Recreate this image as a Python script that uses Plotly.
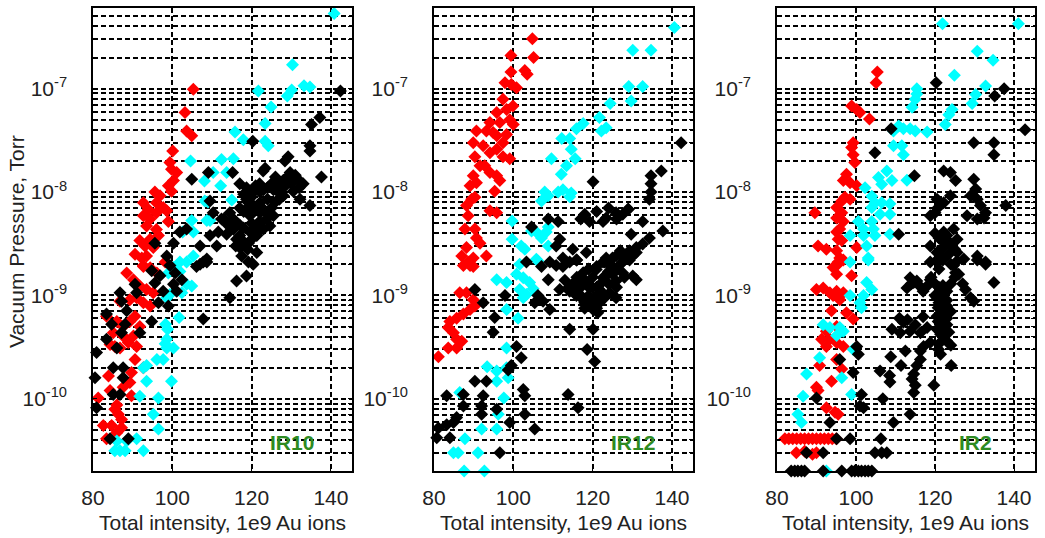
import plotly.graph_objects as go

# ---------------- IR10 ----------------
ir10_red_x = [105.3, 103.2, 103.6, 104.9, 100.1, 99.4, 99.8, 101.1, 100.3, 99.0, 99.8, 95.6, 96.9, 96.0, 97.7,
              92.7, 93.9, 92.7, 94.4, 96.0, 98.6, 99.0, 93.5, 96.0, 94.4, 96.5, 91.8, 93.1, 90.6, 92.3, 93.5,
              95.2, 92.7, 92.7, 94.4, 96.1, 98.2, 88.5, 90.2, 91.8, 93.5, 95.2, 86.8, 89.3, 91.0, 92.7, 94.4,
              83.4, 86.0, 87.6, 89.3, 90.6, 91.8, 85.1, 87.6, 90.2, 84.3, 85.5, 86.8, 88.9, 91.0, 90.6, 92.7,
              89.7, 83.9, 89.3, 87.6, 89.7, 84.3, 81.3, 86.0, 85.5, 86.4, 87.2, 82.6, 84.7, 87.2, 83.4, 86.0]
ir10_red_y = [9.9e-8, 5.9e-8, 3.9e-8, 3.5e-8, 2.5e-8, 1.93e-8, 1.66e-8, 1.55e-8, 1.29e-8, 1.15e-8, 1.02e-8, 1.0e-8,
              9.2e-9, 7.9e-9, 7.1e-9, 7.9e-9, 6.8e-9, 5.9e-9, 5.5e-9, 6.3e-9, 6.6e-9, 5.2e-9, 4.7e-9, 4.35e-9,
              3.5e-9, 3.8e-9, 3.4e-9, 3.0e-9, 2.5e-9, 2.3e-9, 2.4e-9, 2.9e-9, 1.95e-9, 1.9e-9, 1.85e-9, 1.65e-9,
              2.1e-9, 1.65e-9, 1.42e-9, 1.23e-9, 1.14e-9, 1.06e-9, 8.8e-10, 9.1e-10, 9.5e-10, 8.5e-10, 7.9e-10,
              6.3e-10, 5.6e-10, 5.0e-10, 5.6e-10, 6.3e-10, 5.0e-10, 4.35e-10, 4.05e-10, 4.05e-10, 3.35e-10, 3.2e-10,
              3.1e-10, 3.5e-10, 3.2e-10, 2.4e-10, 2.0e-10, 1.8e-10, 1.66e-10, 1.44e-10, 1.29e-10, 1.07e-10, 1.2e-10,
              1.02e-10, 8.7e-11, 7.9e-11, 7.1e-11, 6.3e-11, 5.5e-11, 5.5e-11, 5.25e-11, 4.1e-11, 4.7e-11]
ir10_cyan_x = [140.8, 130.3, 133.2, 134.7, 130.1, 129.0, 121.7, 124.9, 123.4, 123.4, 124.2, 115.8, 117.9, 104.6,
               112.4, 115.4, 113.7, 110.3, 108.1, 112.2, 108.2, 109.0, 115.0, 104.9, 108.7, 109.5, 102.6, 105.3,
               101.9, 103.6, 105.3, 99.0, 100.3, 101.9, 103.6, 104.9, 102.4, 99.4, 98.6, 101.7, 98.3, 98.8, 98.6,
               98.2, 100.3, 98.6, 96.1, 97.7, 93.5, 92.7, 93.5, 99.8, 91.8, 96.5, 95.2, 96.5, 91.0, 88.5, 86.0,
               85.5, 86.8, 88.1, 92.7]
ir10_cyan_y = [5.35e-7, 1.7e-7, 1.07e-7, 1.04e-7, 9.7e-8, 8.5e-8, 9.5e-8, 6.65e-8, 4.6e-8, 3.1e-8, 2.8e-8, 3.8e-8,
               3.2e-8, 2.0e-8, 2.07e-8, 2.1e-8, 1.55e-8, 1.55e-8, 1.28e-8, 1.15e-8, 8.2e-9, 8.0e-9, 8.4e-9, 5.3e-9,
               5.3e-9, 5.3e-9, 4.1e-9, 4.1e-9, 2.1e-9, 2.1e-9, 2.4e-9, 1.65e-9, 1.86e-9, 1.7e-9, 1.28e-9, 1.23e-9,
               1.06e-9, 1.02e-9, 9.5e-10, 6.1e-10, 5.25e-10, 4.7e-10, 3.76e-10, 3.4e-10, 3.1e-10, 3.1e-10, 2.4e-10,
               2.4e-10, 2.1e-10, 2.0e-10, 1.48e-10, 1.48e-10, 1.06e-10, 1.02e-10, 7.1e-11, 5.1e-11, 4.1e-11, 3.9e-11,
               3.9e-11, 3.15e-11, 3.15e-11, 3.15e-11, 3.15e-11]
ir10_black_x = [142.4, 137.2, 135.1, 120.3, 134.7, 134.7, 129.2, 128.4, 123.4, 122.9, 137.6, 129.7, 130.5, 132.2,
                109.1, 104.9, 115.2, 133.0, 118.7, 120.4, 122.1, 125.5, 126.7, 128.0, 130.5, 132.2, 134.7, 109.5,
                110.3, 114.5, 115.4, 112.4, 118.7, 120.4, 122.1, 119.6, 122.1, 123.8, 125.5, 123.0, 124.6, 121.3,
                119.6, 115.4, 116.2, 113.7, 111.6, 111.2, 117.0, 119.2, 121.3, 107.0, 108.7, 107.8, 109.5, 101.9,
                103.6, 100.3, 95.6, 98.6, 99.4, 120.4, 119.2, 118.7, 116.2, 114.5, 107.8, 107.0, 108.7, 106.1,
                100.7, 100.3, 101.1, 102.4, 94.8, 96.9, 95.6, 97.7, 90.6, 91.0, 86.8, 87.2, 96.5, 99.0, 88.5, 83.4,
                84.7, 88.1, 87.2, 91.8, 94.8, 83.4, 86.0, 80.9, 85.1, 87.6, 80.5, 87.6, 85.1, 86.8, 80.9, 84.3, 88.9,
                117.0, 118.0, 119.0, 120.0, 121.0, 122.0, 123.0, 124.0, 125.0, 126.0, 127.0, 128.0, 129.0, 130.0,
                117.0, 118.0, 119.0, 121.0, 122.0, 123.0, 124.0, 125.0, 126.0, 127.0, 128.0, 116.0, 117.0, 118.0,
                120.0, 121.0, 122.0, 117.0, 118.0, 120.0, 119.0, 117.5, 116.0, 114.0, 113.0, 124.0, 126.0, 131.0,
                132.0]
ir10_black_y = [9.5e-8, 5.25e-8, 4.5e-8, 3.1e-8, 2.8e-8, 2.5e-8, 2.2e-8, 2.0e-8, 1.7e-8, 1.6e-8, 1.4e-8, 1.55e-8,
                1.35e-8, 1.27e-8, 1.55e-8, 1.33e-8, 1.55e-8, 1.2e-8, 1.1e-8, 1.0e-8, 1.0e-8, 1.05e-8, 1.0e-8, 9.2e-9,
                1.02e-8, 8.5e-9, 7.4e-9, 8.2e-9, 6.3e-9, 6.3e-9, 5.5e-9, 5.5e-9, 8.5e-9, 7.4e-9, 7.9e-9, 5.9e-9,
                6.3e-9, 5.5e-9, 5.9e-9, 4.4e-9, 4.7e-9, 3.8e-9, 4.1e-9, 4.4e-9, 3.5e-9, 3.9e-9, 4.1e-9, 3.0e-9,
                2.9e-9, 3.2e-9, 2.6e-9, 3.0e-9, 2.25e-9, 2.1e-9, 3.8e-9, 4.1e-9, 4.4e-9, 3.2e-9, 3.2e-9, 2.4e-9,
                1.95e-9, 2.0e-9, 2.1e-9, 1.54e-9, 1.38e-9, 9.5e-10, 5.9e-10, 2.0e-9, 2.1e-9, 1.9e-9, 1.65e-9,
                1.28e-9, 1.1e-9, 1.42e-9, 1.73e-9, 1.55e-9, 1.32e-9, 1.1e-9, 1.28e-9, 1.06e-9, 1.06e-9, 8.8e-10,
                8.5e-10, 7.9e-10, 7.1e-10, 6.6e-10, 5.25e-10, 5.25e-10, 4.35e-10, 4.35e-10, 5.6e-10, 3.76e-10,
                3.1e-10, 2.8e-10, 2.0e-10, 2.0e-10, 1.6e-10, 1.6e-10, 1.1e-10, 1.1e-10, 8.2e-11, 4.1e-11, 4.1e-11,
                1.2e-8, 9.5e-9, 8.0e-9, 9.0e-9, 1.15e-8, 1.2e-8, 1.05e-8, 1.1e-8, 1.2e-8, 1.25e-8, 1.15e-8, 1.3e-8,
                1.4e-8, 1.2e-8, 7.0e-9, 6.5e-9, 7.0e-9, 6.8e-9, 5.2e-9, 6.8e-9, 6.3e-9, 7.0e-9, 8.0e-9, 8.5e-9,
                1.1e-8, 5.0e-9, 4.8e-9, 4.5e-9, 5.0e-9, 4.5e-9, 4.2e-9, 3.8e-9, 3.3e-9, 3.5e-9, 2.8e-9, 2.4e-9,
                3.0e-9, 4.8e-9, 5.5e-9, 8.5e-9, 1.4e-8, 1.45e-8, 1.1e-8]

# ---------------- IR12 ----------------
ir12_red_x = [104.8, 99.4, 105.1, 102.9, 103.5, 99.4, 97.9, 99.5, 100.8, 97.4, 98.3, 99.9, 95.8, 96.6, 99.1, 100.0,
              94.1, 93.2, 94.9, 90.7, 89.9, 95.8, 97.4, 98.3, 92.4, 94.1, 95.8, 97.4, 99.1, 90.3, 91.6, 92.8, 94.1,
              95.8, 96.6, 89.9, 89.1, 90.7, 95.3, 89.5, 90.3, 88.2, 94.1, 95.8, 88.6, 87.8, 90.3, 90.7, 91.6, 88.2,
              87.0, 89.9, 93.2, 87.4, 89.1, 88.6, 89.9, 86.5, 88.2, 89.9, 89.1, 87.4, 90.3, 84.0, 85.7, 83.6, 84.9,
              85.7, 87.0, 83.6, 85.7, 81.1]
ir12_red_y = [3.04e-7, 2.1e-7, 2.0e-7, 1.5e-7, 1.38e-7, 1.45e-7, 1.14e-7, 1.1e-7, 1.02e-7, 7.9e-8, 6.3e-8, 6.8e-8,
              5.9e-8, 4.7e-8, 5.0e-8, 4.5e-8, 4.7e-8, 3.9e-8, 3.76e-8, 3.9e-8, 3.0e-8, 3.5e-8, 3.0e-8, 3.6e-8,
              2.8e-8, 2.4e-8, 2.6e-8, 2.2e-8, 2.1e-8, 2.2e-8, 1.8e-8, 1.8e-8, 1.55e-8, 1.44e-8, 1.29e-8, 1.44e-8,
              1.15e-8, 1.23e-8, 1.02e-8, 8.5e-9, 8.9e-9, 7.4e-9, 6.6e-9, 6.3e-9, 5.9e-9, 4.4e-9, 4.4e-9, 3.6e-9,
              3.2e-9, 2.9e-9, 2.4e-9, 2.3e-9, 2.4e-9, 1.95e-9, 1.95e-9, 2.1e-9, 1.9e-9, 1.06e-9, 1.06e-9, 9.1e-10,
              7.3e-10, 6.6e-10, 7.9e-10, 5.6e-10, 6.0e-10, 4.9e-10, 4.35e-10, 3.76e-10, 3.6e-10, 3.1e-10, 3.1e-10,
              2.55e-10]
ir12_cyan_x = [140.6, 130.1, 134.7, 129.1, 132.6, 129.7, 124.4, 121.7, 117.6, 115.9, 122.2, 123.4, 112.2, 114.2,
               114.6, 109.6, 115.6, 113.4, 112.1, 107.9, 108.8, 107.1, 111.3, 112.5, 114.6, 114.2, 99.7, 104.6,
               105.8, 107.1, 108.8, 108.3, 99.7, 102.0, 102.9, 108.8, 105.8, 101.6, 106.2, 100.8, 102.5, 104.1,
               95.8, 98.3, 101.6, 103.3, 105.0, 102.5, 98.3, 101.2, 98.3, 93.4, 95.8, 98.3, 95.8, 98.7, 97.6, 86.5,
               96.2, 92.0, 95.8, 87.8, 84.9, 86.1, 91.1, 87.6, 92.7]
ir12_cyan_y = [3.9e-7, 2.36e-7, 2.36e-7, 1.05e-7, 1.05e-7, 7.6e-8, 7.2e-8, 5.25e-8, 4.6e-8, 4.1e-8, 3.9e-8, 4.2e-8,
               3.3e-8, 3.3e-8, 2.6e-8, 2.1e-8, 2.1e-8, 1.8e-8, 1.49e-8, 1.0e-8, 9.2e-9, 8.2e-9, 1.0e-8, 1.05e-8,
               9.8e-9, 9.0e-9, 5.25e-9, 4.2e-9, 4.1e-9, 3.6e-9, 4.6e-9, 4.1e-9, 3.5e-9, 3.0e-9, 2.8e-9, 3.0e-9,
               2.24e-9, 2.0e-9, 2.15e-9, 1.6e-9, 1.48e-9, 1.33e-9, 1.42e-9, 1.33e-9, 1.14e-9, 1.02e-9, 1.16e-9,
               9.5e-10, 7.3e-10, 6.0e-10, 3.1e-10, 2.04e-10, 1.86e-10, 2.0e-10, 1.48e-10, 1.6e-10, 1.02e-10,
               1.15e-10, 7.1e-11, 5.1e-11, 5.1e-11, 4.1e-11, 3.0e-11, 3.0e-11, 3.0e-11, 2.0e-11, 2.0e-11]
ir12_black_x = [142.3, 137.3, 134.7, 120.1, 134.7, 134.7, 134.3, 128.9, 127.6, 125.9, 123.4, 122.6, 118.0, 119.2,
                108.8, 111.3, 132.6, 137.7, 129.7, 134.3, 132.6, 131.0, 129.3, 127.6, 125.9, 123.4, 124.3, 122.6,
                112.5, 114.2, 110.8, 110.8, 111.7, 118.4, 104.6, 109.2, 112.5, 115.9, 117.6, 120.9, 122.6, 125.1,
                127.6, 130.1, 131.0, 129.3, 125.9, 116.7, 119.2, 121.7, 115.9, 117.6, 119.6, 121.7, 124.3, 125.9,
                120.1, 121.3, 111.7, 114.2, 109.2, 106.2, 107.5, 105.4, 108.8, 103.3, 107.1, 114.2, 120.1, 118.6,
                120.5, 90.3, 92.4, 97.9, 95.3, 94.9, 100.8, 102.0, 99.5, 98.7, 90.3, 93.2, 102.5, 102.9, 113.8,
                116.3, 83.2, 87.4, 87.4, 92.4, 85.7, 84.9, 83.2, 81.1, 80.7, 92.0, 92.0, 95.8, 99.1, 102.9, 105.4,
                96.6, 84.0,
                115.0, 116.0, 117.0, 118.0, 119.0, 120.0, 121.0, 122.0, 123.0, 124.0, 125.0, 126.0, 127.0, 128.0,
                129.0, 130.0, 131.0, 117.0, 118.0, 119.0, 120.0, 121.0, 122.0, 123.0, 120.0, 118.0, 121.0, 116.0,
                114.0, 113.0, 124.0, 126.0, 128.0, 119.0, 121.0, 123.0, 125.0, 127.0, 117.0, 121.0, 124.0, 126.0,
                129.0, 115.0, 116.0]
ir12_black_y = [3.0e-8, 1.6e-8, 1.44e-8, 1.26e-8, 1.2e-8, 1.0e-8, 8.5e-9, 6.8e-9, 6.1e-9, 6.3e-9, 5.6e-9, 5.2e-9,
                6.1e-9, 5.2e-9, 5.5e-9, 5.2e-9, 5.2e-9, 4.2e-9, 3.9e-9, 3.6e-9, 3.15e-9, 2.9e-9, 2.7e-9, 2.4e-9,
                2.4e-9, 2.3e-9, 1.95e-9, 2.1e-9, 2.3e-9, 2.1e-9, 1.95e-9, 3.0e-9, 3.5e-9, 2.6e-9, 4.6e-9, 2.1e-9,
                1.9e-9, 2.2e-9, 1.66e-9, 1.78e-9, 1.48e-9, 1.9e-9, 1.65e-9, 1.54e-9, 1.42e-9, 2.2e-9, 1.38e-9,
                1.23e-9, 1.18e-9, 1.14e-9, 1.0e-9, 9.1e-10, 8.5e-10, 8.5e-10, 1.06e-9, 9.5e-10, 7.3e-10, 6.8e-10,
                1.14e-9, 1.1e-9, 7.3e-10, 1.0e-9, 8.8e-10, 8.5e-10, 1.42e-9, 2.1e-9, 1.9e-9, 4.7e-10, 4.7e-10,
                3.0e-10, 2.3e-10, 1.14e-9, 8.5e-10, 1.0e-9, 6.1e-10, 4.4e-10, 3.2e-10, 2.5e-10, 2.1e-10, 1.9e-10,
                1.48e-10, 1.48e-10, 1.23e-10, 1.07e-10, 1.1e-10, 8.2e-11, 1.07e-10, 1.1e-10, 8.5e-11, 1.07e-10,
                6.6e-11, 5.9e-11, 5.6e-11, 5.2e-11, 4.2e-11, 7.1e-11, 8.5e-11, 7.9e-11, 5.9e-11, 7.1e-11, 5.1e-11,
                3.0e-11, 4.2e-11,
                1.3e-9, 1.5e-9, 1.2e-9, 1.4e-9, 1.3e-9, 1.5e-9, 1.2e-9, 1.3e-9, 1.5e-9, 1.7e-9, 1.6e-9, 1.8e-9,
                2.0e-9, 2.2e-9, 2.5e-9, 2.4e-9, 2.6e-9, 1.0e-9, 8.5e-10, 1.0e-9, 9.0e-10, 1.0e-9, 1.1e-9, 9.5e-10,
                8.0e-10, 7.5e-10, 7.5e-10, 1.1e-9, 1.2e-9, 1.4e-9, 1.3e-9, 1.2e-9, 1.5e-9, 1.8e-9, 1.9e-9, 2.1e-9,
                2.3e-9, 2.7e-9, 5.5e-9, 6.5e-9, 7.0e-9, 5.5e-9, 6.8e-9, 2.8e-9, 2.2e-9]

# ---------------- IR2 ----------------
ir2_red_x = [105.4, 105.1, 98.9, 100.2, 101.0, 103.4, 99.3, 98.9, 99.3, 99.7, 97.6, 96.8, 98.5, 100.2, 97.2, 98.5,
             96.4, 95.1, 96.4, 95.1, 89.6, 96.8, 95.9, 95.1, 95.5, 96.4, 90.4, 92.5, 100.2, 95.1, 95.9, 95.1, 95.5,
             96.8, 94.2, 95.1, 98.9, 90.0, 91.7, 93.4, 95.1, 94.2, 95.9, 96.8, 93.8, 97.6, 99.3, 95.1, 92.5, 91.3,
             93.4, 95.1, 96.8, 92.5, 95.1, 90.8, 96.4, 93.8, 90.0, 90.4, 92.5, 94.7, 95.5, 82.0, 83.0, 84.0, 85.0,
             86.0, 87.0, 88.0, 89.0, 90.0, 91.0, 92.0, 93.0, 94.0, 95.0, 84.9, 87.0, 89.0, 90.0]
ir2_red_y = [1.45e-7, 1.14e-7, 6.8e-8, 6.3e-8, 5.9e-8, 5.1e-8, 3.0e-8, 2.7e-8, 2.3e-8, 1.93e-8, 1.49e-8, 1.29e-8,
             1.23e-8, 1.15e-8, 8.9e-9, 8.5e-9, 8.2e-9, 7.1e-9, 6.3e-9, 5.6e-9, 6.3e-9, 5.2e-9, 4.4e-9, 4.1e-9,
             3.5e-9, 3.4e-9, 3.0e-9, 2.8e-9, 2.9e-9, 2.7e-9, 2.3e-9, 1.95e-9, 2.1e-9, 2.2e-9, 1.86e-9, 1.6e-9,
             1.55e-9, 1.14e-9, 1.18e-9, 1.06e-9, 1.1e-9, 1.0e-9, 9.1e-10, 1.06e-9, 7.1e-10, 6.8e-10, 5.9e-10,
             5.0e-10, 4.5e-10, 3.76e-10, 3.76e-10, 3.5e-10, 3.2e-10, 3.2e-10, 2.4e-10, 2.1e-10, 1.94e-10, 1.48e-10,
             1.29e-10, 1.2e-10, 8.2e-11, 7.4e-11, 7.1e-11, 4.1e-11, 4.1e-11, 4.1e-11, 4.1e-11, 4.1e-11, 4.1e-11,
             4.1e-11, 4.1e-11, 4.1e-11, 4.1e-11, 4.1e-11, 4.1e-11, 4.1e-11, 4.1e-11, 3.0e-11, 3.1e-11, 2.9e-11,
             3.0e-11]
ir2_cyan_x = [121.9, 141.1, 130.7, 134.7, 124.9, 132.8, 130.3, 129.4, 115.4, 115.4, 115.0, 114.2, 124.3, 123.5,
              122.6, 109.5, 110.8, 112.0, 113.7, 115.0, 118.0, 109.5, 111.6, 112.0, 107.8, 105.7, 109.1, 106.5,
              112.9, 102.3, 104.0, 104.8, 106.5, 108.6, 104.0, 106.1, 108.6, 100.6, 101.9, 104.0, 104.4, 98.5,
              101.9, 104.8, 108.6, 102.7, 103.1, 98.5, 103.1, 102.7, 104.0, 101.9, 101.0, 101.4, 98.5, 91.7, 93.4,
              95.9, 95.1, 96.8, 99.3, 90.8, 87.5, 96.4, 98.9, 86.6, 85.3, 86.2, 92.5]
ir2_cyan_y = [4.25e-7, 4.25e-7, 2.3e-7, 1.88e-7, 1.35e-7, 1.06e-7, 8.8e-8, 7.2e-8, 1.0e-7, 8.9e-8, 7.9e-8, 6.6e-8,
              6.3e-8, 5.6e-8, 4.5e-8, 3.9e-8, 4.35e-8, 4.1e-8, 4.1e-8, 3.9e-8, 3.8e-8, 2.8e-8, 2.8e-8, 2.3e-8,
              1.6e-8, 1.38e-8, 1.29e-8, 1.19e-8, 1.3e-8, 1.1e-8, 9.1e-9, 7.9e-9, 7.9e-9, 7.7e-9, 7.1e-9, 6.1e-9,
              6.1e-9, 5.2e-9, 4.4e-9, 5.2e-9, 4.4e-9, 3.8e-9, 3.8e-9, 3.8e-9, 3.9e-9, 3.0e-9, 2.3e-9, 2.1e-9,
              2.2e-9, 1.33e-9, 1.14e-9, 1.0e-9, 8.5e-10, 7.6e-10, 1.0e-9, 5.2e-10, 4.9e-10, 4.9e-10, 4.1e-10,
              4.5e-10, 3.0e-10, 2.5e-10, 1.74e-10, 1.6e-10, 1.1e-10, 1.06e-10, 7.1e-11, 5.9e-11, 2.0e-11]
ir2_black_x = [120.3, 137.5, 135.1, 142.8, 108.9, 129.8, 134.9, 134.9, 104.8, 114.8, 122.2, 123.9, 125.2, 129.8,
               130.3, 129.0, 130.7, 131.5, 132.8, 120.5, 122.2, 123.9, 120.8, 120.0, 118.8, 137.9, 128.1, 130.7,
               132.4, 110.8, 118.8, 122.2, 124.7, 125.6, 123.9, 122.2, 121.4, 125.6, 127.3, 130.7, 132.8, 124.7,
               118.8, 120.5, 125.6, 130.7, 132.8, 125.2, 134.9, 113.7, 114.6, 112.9, 115.4, 118.8, 118.0, 127.7,
               129.0, 129.8, 121.4, 120.5, 122.2, 123.0, 120.8, 121.7, 120.5, 123.0, 120.8, 122.2, 120.5, 122.6,
               121.4, 123.5, 109.1, 111.2, 113.7, 116.3, 118.0, 118.8, 117.1, 116.3, 120.9, 121.4, 116.3, 115.4,
               114.6, 114.2, 115.0, 114.6, 112.5, 111.4, 108.8, 108.5, 108.6, 106.1, 124.1, 119.7, 106.8, 113.7,
               109.5, 100.2, 100.6, 99.3, 101.4, 101.0, 101.9, 95.9, 90.0, 93.4, 95.1, 98.5, 106.3, 87.5, 91.7,
               104.8, 106.5, 107.8, 83.6, 84.5, 85.3, 86.2, 87.0, 91.7, 96.4, 98.9, 99.7, 100.6, 101.4, 102.3,
               103.1, 104.0,
               120.0, 121.0, 122.0, 123.0, 124.0, 125.0, 120.5, 122.0, 123.5, 124.0, 121.0, 119.0, 120.0, 121.0,
               122.0, 123.0, 124.0, 125.0, 120.0, 121.0, 122.0, 123.0, 124.0, 121.0, 122.0, 123.0, 122.0, 123.0,
               124.0, 121.0, 114.0, 116.0, 117.0, 111.0, 112.0, 113.0, 115.0, 117.0, 126.0, 127.0]
ir2_black_y = [1.14e-7, 1.0e-7, 8.5e-8, 4.0e-8, 4.1e-8, 3.0e-8, 3.0e-8, 2.3e-8, 2.4e-8, 1.44e-8, 1.6e-8, 1.55e-8,
               1.29e-8, 1.33e-8, 1.07e-8, 9.2e-9, 8.5e-9, 7.4e-9, 6.3e-9, 8.5e-9, 7.9e-9, 9.2e-9, 7.1e-9, 6.3e-9,
               5.9e-9, 7.4e-9, 5.9e-9, 5.5e-9, 5.6e-9, 3.9e-9, 3.0e-9, 4.1e-9, 4.4e-9, 3.5e-9, 3.2e-9, 2.9e-9,
               2.4e-9, 2.6e-9, 2.25e-9, 2.4e-9, 2.1e-9, 1.95e-9, 2.1e-9, 2.2e-9, 2.15e-9, 2.2e-9, 2.0e-9, 1.66e-9,
               1.33e-9, 1.48e-9, 1.33e-9, 1.18e-9, 1.38e-9, 1.42e-9, 1.23e-9, 1.14e-9, 9.5e-10, 8.8e-10, 1.1e-9,
               9.5e-10, 9.1e-10, 7.9e-10, 7.6e-10, 6.8e-10, 6.3e-10, 6.0e-10, 5.6e-10, 5.2e-10, 4.7e-10, 4.6e-10,
               4.2e-10, 4.4e-10, 4.7e-10, 4.35e-10, 4.5e-10, 4.35e-10, 4.9e-10, 3.5e-10, 3.2e-10, 2.9e-10, 3.0e-10,
               2.7e-10, 2.4e-10, 2.1e-10, 1.74e-10, 1.55e-10, 1.35e-10, 1.15e-10, 2.9e-10, 2.1e-10, 2.55e-10,
               1.68e-10, 1.45e-10, 1.86e-10, 2.1e-10, 1.35e-10, 1.0e-10, 7.1e-11, 5.9e-11, 3.2e-10, 2.7e-10,
               1.8e-10, 1.1e-10, 8.5e-11, 8.2e-11, 2.4e-10, 1.02e-10, 5.9e-11, 4.1e-11, 4.1e-11, 4.1e-11, 3.0e-11,
               3.0e-11, 3.0e-11, 3.0e-11, 3.0e-11, 2.0e-11, 2.0e-11, 2.0e-11, 2.0e-11, 2.0e-11, 2.0e-11, 2.0e-11,
               2.0e-11, 2.0e-11, 2.0e-11, 2.0e-11, 2.0e-11, 2.0e-11, 2.0e-11,
               4.0e-9, 3.6e-9, 3.3e-9, 3.8e-9, 3.1e-9, 2.8e-9, 2.6e-9, 2.2e-9, 2.5e-9, 2.0e-9, 1.8e-9, 1.5e-9,
               1.3e-9, 1.2e-9, 1.25e-9, 1.1e-9, 1.3e-9, 1.5e-9, 1.0e-9, 8.5e-10, 8.0e-10, 9.0e-10, 7.0e-10, 6.0e-10,
               5.8e-10, 5.2e-10, 4.0e-10, 3.6e-10, 3.3e-10, 3.4e-10, 1.3e-9, 1.25e-9, 1.1e-9, 6.0e-10, 5.5e-10,
               5.8e-10, 5.2e-10, 6.2e-10, 1.6e-9, 1.3e-9]

panel_names = ["IR10", "IR12", "IR2"]
panel_data = [
    [(ir10_red_x, ir10_red_y), (ir10_cyan_x, ir10_cyan_y), (ir10_black_x, ir10_black_y)],
    [(ir12_red_x, ir12_red_y), (ir12_cyan_x, ir12_cyan_y), (ir12_black_x, ir12_black_y)],
    [(ir2_red_x, ir2_red_y), (ir2_cyan_x, ir2_cyan_y), (ir2_black_x, ir2_black_y)],
]
series_colors = ["#ff0000", "#00ffff", "#000000"]
x_tick_values = [80, 100, 120, 140]
y_decades = [-10, -9, -8, -7]
x_title = "Total intensity, 1e9 Au ions"
y_title = "Vacuum Pressure, Torr"

FONT = "Liberation Sans, Arial, sans-serif"
TXT = "#222222"

# log tick positions: every 1..9 multiple, labels only at decades
tickvals, ticktext = [], []
for e in range(-11, -6):
    for m in range(1, 10):
        v = m * 10.0 ** e
        if 1.99e-11 <= v <= 6.1e-7:
            tickvals.append(v)
            ticktext.append(f"10<sup>{e}</sup>" if (m == 1 and e in y_decades) else "")

x_domains = [[0.089, 0.3368], [0.4153, 0.6632], [0.7435, 0.9904]]
y_domain = [0.1245, 0.985]

fig = go.Figure()
for i, (name, series) in enumerate(zip(panel_names, panel_data)):
    sfx = "" if i == 0 else str(i + 1)
    for (xs, ys), col in zip(series, series_colors):
        fig.add_trace(go.Scatter(
            x=xs, y=ys, mode="markers", xaxis="x" + sfx, yaxis="y" + sfx,
            marker=dict(symbol="diamond", size=10, color=col, line=dict(width=0)),
            cliponaxis=False, showlegend=False, hoverinfo="x+y"))
    common = dict(showline=True, linecolor="black", linewidth=1.5, mirror="ticks",
                  ticks="inside", ticklen=4, tickcolor="black", automargin=False,
                  showgrid=True, gridcolor="black", gridwidth=1.5, griddash="5px,3px",
                  zeroline=False, tickfont=dict(family=FONT, size=21, color=TXT))
    fig.layout["xaxis" + sfx] = dict(
        domain=x_domains[i], range=[80, 145.3], anchor="y" + sfx,
        tickmode="array", tickvals=x_tick_values, ticklabelstandoff=7, **common)
    fig.layout["yaxis" + sfx] = dict(
        domain=y_domain, type="log", range=[-10.699, -6.22], anchor="x" + sfx,
        tickmode="array", tickvals=tickvals, ticktext=ticktext, ticklabelstandoff=20, **common)
    fig.add_annotation(x=130.2, y=-10.425, xref="x" + sfx, yref="y" + sfx, text=f"<b>{name}</b>",
                       showarrow=False, font=dict(family=FONT, size=21, color="#2e8b22"))
    fig.add_annotation(x=sum(x_domains[i]) / 2, y=0.0297, xref="paper", yref="paper", text=x_title,
                       showarrow=False, xanchor="center", yanchor="middle",
                       font=dict(family=FONT, size=21, color=TXT))

fig.add_annotation(x=0.0153, y=0.552, xref="paper", yref="paper", text=y_title, textangle=-90,
                   showarrow=False, xanchor="center", yanchor="middle",
                   font=dict(family=FONT, size=21, color=TXT))

fig.update_layout(width=1045, height=538, margin=dict(l=0, r=0, t=0, b=0),
                  paper_bgcolor="white", plot_bgcolor="white", showlegend=False)

fig.write_html("out.html")
